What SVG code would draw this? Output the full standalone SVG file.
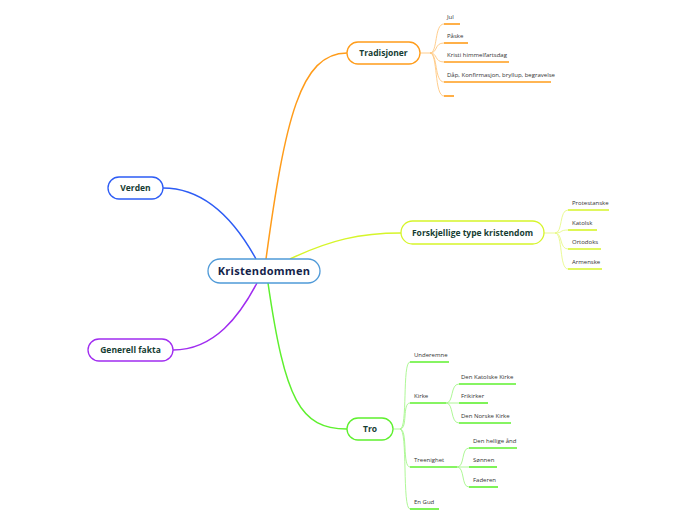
<svg xmlns="http://www.w3.org/2000/svg" width="696" height="520" viewBox="0 0 696 520">
<style>
.node rect{fill:#fff;stroke-width:1.3}
.nt{font-family:"Open Sans","Noto Sans",sans-serif;font-weight:bold;font-size:8.5px;fill:#163d33;text-anchor:middle}
.ct{font-family:"Open Sans","Noto Sans",sans-serif;font-weight:bold;font-size:11px;fill:#14234a;text-anchor:middle;letter-spacing:0.3px}
.lt{font-family:"Open Sans","Noto Sans",sans-serif;font-size:6px;fill:#333}
.main{fill:none;stroke-width:1.5}
.br{fill:none;stroke-width:0.9;opacity:0.55}
.ul{fill:none;stroke-width:1.6}
.o{stroke:#ff9c1a}
.y{stroke:#d6f52a}
.g{stroke:#5ef02e}
.b{stroke:#2d5cf5}
.p{stroke:#a02cf0}
</style>
<g id="connectors">
  <path class="main o" d="M266 259 C285 120 300 53 347 53"/>
  <path class="main y" d="M290 259 C330 240 360 233 401 233"/>
  <path class="main g" d="M268 283 C285 400 300 429 347 429"/>
  <path class="main b" d="M163 188 C210 188 240 230 256 259"/>
  <path class="main p" d="M173 350 C215 350 240 315 257 283"/>
  <!-- Tradisjoner branches -->
  <g class="br o">
    <path d="M420 53 H430"/>
    <path d="M430 53 C438 53 434 24 444 24"/>
    <path d="M430 53 C438 53 434 43 444 43"/>
    <path d="M430 53 C438 53 434 62 444 62"/>
    <path d="M430 53 C438 53 434 82 444 82"/>
    <path d="M430 53 C438 53 434 96 444 96"/>
  </g>
  <g class="ul o">
    <path d="M444 24 H460"/>
    <path d="M444 43 H468"/>
    <path d="M444 62 H509"/>
    <path d="M444 82 H551"/>
    <path d="M444 96 H454"/>
  </g>
  <!-- Forskjellige branches -->
  <g class="br y">
    <path d="M544 233 H555"/>
    <path d="M555 233 C563 233 559 210 568 210"/>
    <path d="M555 233 C563 233 559 230 568 230"/>
    <path d="M555 233 C563 233 559 249 568 249"/>
    <path d="M555 233 C563 233 559 269 568 269"/>
  </g>
  <g class="ul y">
    <path d="M568 210 H609"/>
    <path d="M568 230 H597"/>
    <path d="M568 249 H601"/>
    <path d="M568 269 H602"/>
  </g>
  <!-- Tro branches -->
  <g class="br g">
    <path d="M393 429 H400"/>
    <path d="M400 429 C408 429 402 362 410 362"/>
    <path d="M400 429 C408 429 402 403 410 403"/>
    <path d="M400 429 C408 429 402 467 410 467"/>
    <path d="M400 429 C408 429 402 509 410 509"/>
    <path d="M446 403 C454 403 450 384 459 384"/>
    <path d="M446 403 H459"/>
    <path d="M446 403 C454 403 450 423 459 423"/>
    <path d="M457 467 C465 467 461 448 469 448"/>
    <path d="M457 467 H469"/>
    <path d="M457 467 C465 467 461 487 469 487"/>
  </g>
  <g class="ul g">
    <path d="M410 362 H449"/>
    <path d="M410 403 H446"/>
    <path d="M410 467 H457"/>
    <path d="M410 509 H439"/>
    <path d="M459 384 H516"/>
    <path d="M459 403 H488"/>
    <path d="M459 423 H511"/>
    <path d="M469 448 H517"/>
    <path d="M469 467 H497"/>
    <path d="M469 487 H498"/>
  </g>
</g>
<g id="kristendommen" class="node">
  <rect x="208" y="259" width="112" height="24" rx="12" stroke="#4f9ad8"/>
  <text class="ct" x="264" y="275">Kristendommen</text>
</g>
<g id="verden" class="node">
  <rect x="108" y="177" width="55" height="22" rx="11" stroke="#2d5cf5"/>
  <text class="nt" x="135.5" y="191">Verden</text>
</g>
<g id="generell-fakta" class="node">
  <rect x="88" y="339" width="85" height="22" rx="11" stroke="#a02cf0"/>
  <text class="nt" x="130.5" y="353">Generell fakta</text>
</g>
<g id="tradisjoner" class="node">
  <rect x="347" y="42" width="73" height="22" rx="11" stroke="#ff9c1a"/>
  <text class="nt" x="383.5" y="56">Tradisjoner</text>
</g>
<g id="forskjellige" class="node">
  <rect x="401" y="221" width="143" height="23" rx="11.5" stroke="#d6f52a"/>
  <text class="nt" x="472.5" y="236">Forskjellige type kristendom</text>
</g>
<g id="tro" class="node">
  <rect x="347" y="418" width="46" height="22" rx="11" stroke="#5ef02e"/>
  <text class="nt" x="370" y="432">Tro</text>
</g>
<g id="jul"><text class="lt" x="447" y="19">Jul</text></g>
<g id="paske"><text class="lt" x="447" y="38">Påske</text></g>
<g id="kristi"><text class="lt" x="447" y="57">Kristi himmelfartsdag</text></g>
<g id="dap"><text class="lt" x="447" y="77">Dåp, Konfirmasjon, bryllup, begravelse</text></g>
<g id="empty"></g>
<g id="protestanske"><text class="lt" x="572" y="205">Protestanske</text></g>
<g id="katolsk"><text class="lt" x="572" y="225">Katolsk</text></g>
<g id="ortodoks"><text class="lt" x="572" y="244">Ortodoks</text></g>
<g id="armenske"><text class="lt" x="572" y="264">Armenske</text></g>
<g id="underemne"><text class="lt" x="414" y="357">Underemne</text></g>
<g id="kirke"><text class="lt" x="414" y="398">Kirke</text></g>
<g id="treenighet"><text class="lt" x="414" y="462">Treenighet</text></g>
<g id="en-gud"><text class="lt" x="414" y="504">En Gud</text></g>
<g id="den-katolske"><text class="lt" x="461" y="379">Den Katolske Kirke</text></g>
<g id="frikirker"><text class="lt" x="461" y="398">Frikirker</text></g>
<g id="den-norske"><text class="lt" x="461" y="418">Den Norske Kirke</text></g>
<g id="den-hellige"><text class="lt" x="473" y="443">Den hellige ånd</text></g>
<g id="sonnen"><text class="lt" x="473" y="462">Sønnen</text></g>
<g id="faderen"><text class="lt" x="473" y="482">Faderen</text></g>
</svg>
